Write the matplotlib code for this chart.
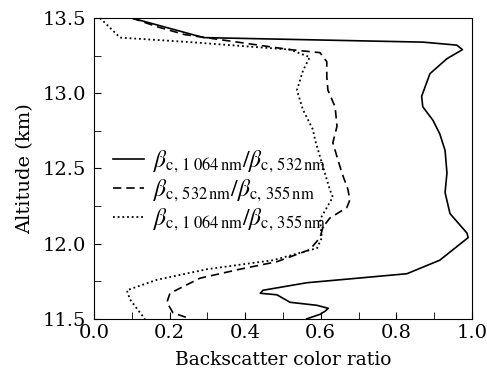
import matplotlib

matplotlib.use("Agg")
import matplotlib.pyplot as plt
from matplotlib.ticker import MultipleLocator

# altitude (km) / color ratio pairs
alt_1064_532 = [13.50, 13.37, 13.34, 13.32, 13.29, 13.23, 13.13, 12.98, 12.91, 12.82,
                12.73, 12.62, 12.47, 12.34, 12.20, 12.07, 12.04, 11.98, 11.89, 11.80,
                11.77, 11.74, 11.69, 11.67, 11.66, 11.61, 11.59, 11.57, 11.55, 11.53, 11.50]
cr_1064_532 = [0.10, 0.29, 0.87, 0.96, 0.975, 0.934, 0.889, 0.867, 0.870, 0.897,
               0.915, 0.929, 0.934, 0.929, 0.942, 0.987, 0.990, 0.960, 0.915, 0.828,
               0.696, 0.563, 0.447, 0.440, 0.484, 0.519, 0.590, 0.620, 0.611, 0.598, 0.563]

alt_532_355 = [13.50, 13.44, 13.39, 13.29, 13.27, 13.21, 13.11, 13.02, 12.91, 12.78,
               12.67, 12.47, 12.36, 12.29, 12.24, 12.17, 12.11, 12.04, 11.96, 11.88,
               11.83, 11.77, 11.67, 11.61, 11.54, 11.50]
cr_532_355 = [0.10, 0.17, 0.24, 0.519, 0.598, 0.616, 0.616, 0.619, 0.638, 0.643,
              0.632, 0.656, 0.672, 0.677, 0.669, 0.624, 0.606, 0.598, 0.571, 0.484,
              0.386, 0.280, 0.201, 0.193, 0.209, 0.255]

alt_1064_355 = [13.50, 13.37, 13.34, 13.29, 13.24, 13.15, 13.02, 12.89, 12.76, 12.69,
                12.51, 12.36, 12.31, 12.16, 12.04, 11.97, 11.89, 11.83, 11.76, 11.69,
                11.63, 11.54, 11.50]
cr_1064_355 = [0.016, 0.069, 0.254, 0.519, 0.571, 0.553, 0.537, 0.553, 0.579, 0.585,
               0.606, 0.624, 0.632, 0.598, 0.603, 0.590, 0.474, 0.299, 0.167, 0.087,
               0.095, 0.122, 0.135]

labels = [
    r"$\beta_{\rm c,\,1\;064\,nm}/\beta_{\rm c,\,532\,nm}$",
    r"$\beta_{\rm c,\,532\,nm}/\beta_{\rm c,\,355\,nm}$",
    r"$\beta_{\rm c,\,1\;064\,nm}/\beta_{\rm c,\,355\,nm}$",
]

plt.rcParams["font.family"] = "DejaVu Serif"
plt.rcParams["mathtext.fontset"] = "stix"

fig = plt.figure(figsize=(4.87, 3.76), dpi=100)
ax = fig.add_axes([0.193, 0.152, 0.776, 0.800])

ax.plot(cr_1064_532, alt_1064_532, color="black", lw=1.2, ls="-", label=labels[0])
ax.plot(cr_532_355, alt_532_355, color="black", lw=1.2, ls=(0, (5, 3)), label=labels[1])
ax.plot(cr_1064_355, alt_1064_355, color="black", lw=1.3, ls=(0, (1, 1.6)), label=labels[2])

ax.set_xlim(0, 1.0)
ax.set_ylim(11.5, 13.5)
ax.xaxis.set_major_locator(MultipleLocator(0.2))
ax.xaxis.set_minor_locator(MultipleLocator(0.1))
ax.yaxis.set_major_locator(MultipleLocator(0.5))
ax.yaxis.set_minor_locator(MultipleLocator(0.25))
ax.xaxis.set_major_formatter(plt.FormatStrFormatter("%.1f"))
ax.tick_params(which="both", direction="in", labelsize=14, top=False, right=False, length=5)
ax.tick_params(axis="x", pad=4)
ax.tick_params(axis="y", pad=6)

ax.set_xlabel("Backscatter color ratio", fontsize=13.5, labelpad=6)
ax.set_ylabel("Altitude (km)", fontsize=14, labelpad=6)

ax.legend(loc="upper left", bbox_to_anchor=(0.05, 0.565), frameon=False, fontsize=17,
          handlelength=1.3, handletextpad=0.4, labelspacing=0.1,
          borderpad=0, borderaxespad=0)

fig.savefig("out.png", dpi=100)
